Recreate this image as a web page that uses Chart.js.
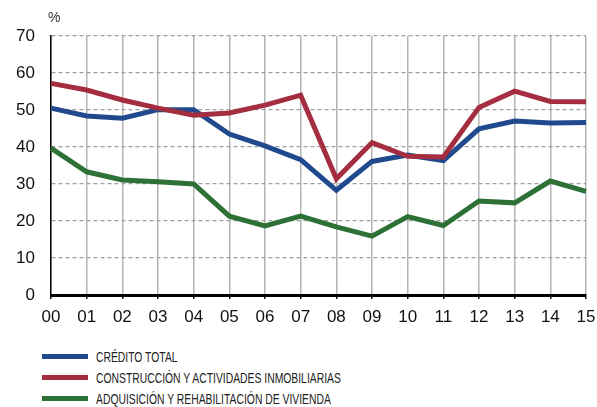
<!DOCTYPE html>
<html>
<head>
<meta charset="utf-8">
<script src="https://cdn.jsdelivr.net/npm/chart.js@4/dist/chart.umd.min.js"></script>
<style>
  html, body { margin: 0; padding: 0; background: #fff; }
  #wrap { position: relative; width: 597px; height: 407px; }
  #chart { position: absolute; left: 0; top: 0; }
  #legend { position: absolute; left: 42px; top: 346px; font-family: "Liberation Sans Narrow", "Arial Narrow", "Liberation Sans", sans-serif; font-size: 14px; color: #222; }
  .item { display: flex; align-items: center; height: 21px; white-space: nowrap; }
  .swatch { width: 46px; height: 5px; margin-right: 8px; flex: none; }
  .name { display: inline-block; transform: scaleX(0.74); transform-origin: left center; }
</style>
</head>
<body>
<div id="wrap">
  <canvas id="chart" width="597" height="335"></canvas>
  <div id="legend"></div>
</div>
<script>
const years = ["00", "01", "02", "03", "04", "05", "06", "07", "08", "09", "10", "11", "12", "13", "14", "15"];
const creditoTotal = [50.5, 48.4, 47.8, 50.1, 50.1, 43.5, 40.3, 36.6, 28.3, 36.1, 37.8, 36.3, 44.9, 47.0, 46.5, 46.6];
const construccion = [57.2, 55.4, 52.7, 50.5, 48.6, 49.2, 51.3, 54.0, 31.4, 41.2, 37.5, 37.3, 50.7, 55.1, 52.3, 52.2];
const adquisicion = [39.7, 33.3, 31.1, 30.6, 30.0, 21.3, 18.7, 21.3, 18.4, 15.9, 21.2, 18.8, 25.4, 24.9, 30.8, 28.0];
const yTicks = [0, 10, 20, 30, 40, 50, 60, 70];

const seriesNames = ["CRÉDITO TOTAL", "CONSTRUCCIÓN Y ACTIVIDADES INMOBILIARIAS", "ADQUISICIÓN Y REHABILITACIÓN DE VIVIENDA"];
const seriesColors = ["#214a8e", "#a42d40", "#2e7137"];
const seriesData = [creditoTotal, construccion, adquisicion];
const drawOrder = [1, 0, 2]; // red line sits on top of blue

// "%" label above the y axis
const percentLabel = {
  id: "percentLabel",
  afterDraw(chart) {
    const ctx = chart.ctx;
    ctx.save();
    ctx.font = "14px 'Liberation Sans', Arial, sans-serif";
    ctx.fillStyle = "#333";
    ctx.textAlign = "left";
    ctx.textBaseline = "middle";
    ctx.fillText("%", chart.chartArea.left - 3, 18);
    ctx.restore();
  }
};

const chart = new Chart(document.getElementById("chart"), {
  type: "line",
  data: {
    labels: years,
    datasets: seriesData.map((d, i) => ({
      label: seriesNames[i],
      data: d,
      order: drawOrder[i],
      borderColor: seriesColors[i],
      backgroundColor: seriesColors[i],
      borderWidth: 5,
      pointRadius: 0,
      tension: 0,
      borderJoinStyle: "miter"
    }))
  },
  plugins: [percentLabel],
  options: {
    responsive: false,
    animation: false,
    layout: { padding: { top: 36, right: 11, left: 0, bottom: 0 } },
    plugins: { legend: { display: false }, tooltip: { enabled: false } },
    scales: {
      x: {
        offset: false,
        grid: { color: "#b4b4b4", lineWidth: 1.5, tickColor: "#111", tickLength: 4, tickWidth: 1.5 },
        border: { color: "#000", width: 3 },
        ticks: { color: "#111", font: { family: "'Liberation Sans', Arial, sans-serif", size: 17 }, padding: 8, maxRotation: 0, autoSkip: false },
        afterFit(scale) {
          scale.height = 40;
          scale.paddingLeft = 0;
          scale.paddingRight = 0;
        }
      },
      y: {
        min: 0,
        max: 70,
        afterBuildTicks(scale) { scale.ticks = yTicks.map(v => ({ value: v })); },
        grid: { color: "#a0a0a0", lineWidth: 1.2, drawTicks: false },
        border: { color: "#000", width: 1.5, dash: [4, 3] },
        ticks: { color: "#111", font: { family: "'Liberation Sans', Arial, sans-serif", size: 17 }, padding: 16 },
        afterFit(scale) { scale.width = 51; }
      }
    }
  }
});

const legend = document.getElementById("legend");
seriesNames.forEach((name, i) => {
  const row = document.createElement("div");
  row.className = "item";
  row.innerHTML = `<span class="swatch" style="background:${seriesColors[i]}"></span><span class="name">${name}</span>`;
  legend.appendChild(row);
});
</script>
</body>
</html>
